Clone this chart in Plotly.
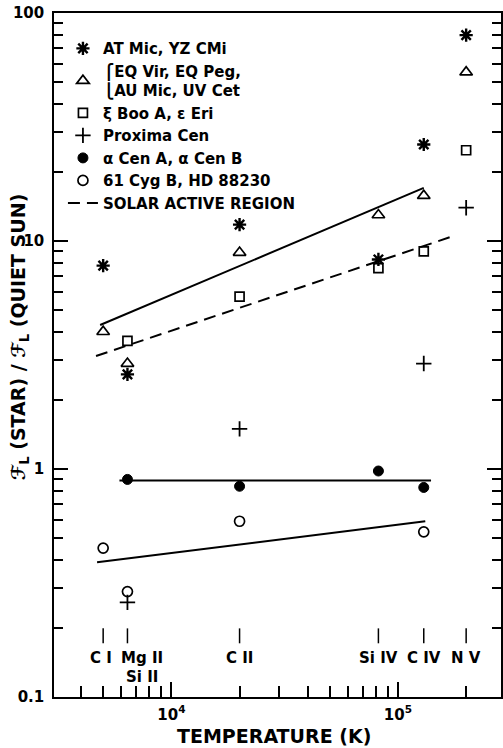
import plotly.graph_objects as go
import math

# ---------------- data ----------------
temps = [5000, 6400, 20000, 82000, 130000, 200000]

at_mic = [7.8, 2.6, 11.8, 8.3, 26.5, 80]          # asterisk
eq_vir = [4.0, 2.9, 8.9, 13.0, 15.8, 55]          # triangle
xi_boo = [None, 3.65, 5.7, 7.6, 9.0, 25]          # square
proxima = [None, 0.26, 1.5, None, 2.9, 14]        # plus
alpha_cen = [None, 0.9, 0.84, 0.98, 0.83, None]   # filled circle
cyg61 = [0.45, 0.29, 0.59, None, 0.53, None]      # open circle

# fitted / reference lines (endpoints)
fit_active_T = [4850, 130000]
fit_active_v = [4.28, 17.1]
solar_T = [4650, 175000]
solar_v = [3.13, 10.5]
cen_T = [5900, 140000]
cen_v = [0.89, 0.89]
cyg_T = [4700, 132000]
cyg_v = [0.39, 0.59]

# spectral lines marking formation temperature
line_T = [5000, 6400, 20000, 82000, 130000, 200000]
line_labels = ["C I", "Mg II", "C II", "Si IV", "C IV", "N V"]
line_labels2 = ["", "Si II", "", "", "", ""]

legend_names = [
    "AT Mic, YZ CMi",
    "⎧EQ Vir, EQ Peg,<br>⎩AU Mic, UV Cet",
    "ξ Boo A, ε Eri",
    "Proxima Cen",
    "α Cen A, α Cen B",
    "61 Cyg B, HD 88230",
    "SOLAR ACTIVE REGION",
]

x_tickvals = [1e4, 1e5]
x_ticktext = ["10<sup>4</sup>", "10<sup>5</sup>"]
x_minor = [3000, 4000, 5000, 6000, 7000, 8000, 9000,
           20000, 30000, 40000, 50000, 60000, 70000, 80000, 90000, 200000]
y_tickvals = [0.1, 1, 10, 100]
y_ticktext = ["0.1", "1", "10", "100"]
y_minor = [0.2, 0.3, 0.4, 0.5, 0.6, 0.7, 0.8, 0.9,
           2, 3, 4, 5, 6, 7, 8, 9, 20, 30, 40, 50, 60, 70, 80, 90]

# ---------------- figure ----------------
FONT = "DejaVu Sans, Noto Sans, sans-serif"
W, H = 503, 748
M = dict(l=54, r=2, t=13, b=51)
plot_h = H - M["t"] - M["b"]
y_range = [-1, 2]
px_per_decade = plot_h / (y_range[1] - y_range[0])
fig = go.Figure()

def pts(vals):
    return [t for t, v in zip(temps, vals) if v is not None], [v for v in vals if v is not None]

series = [
    (at_mic, "asterisk-open", 11, 2.4),
    (eq_vir, "triangle-up-open", 11, 1.7),
    (xi_boo, "square-open", 9, 1.7),
    (proxima, "cross-thin-open", 11, 1.8),
    (alpha_cen, "circle", 10, 1.0),
    (cyg61, "circle-open", 10, 1.7),
]
for (vals, sym, size, lw), name in zip(series, legend_names):
    xs, ys = pts(vals)
    fig.add_trace(go.Scatter(
        x=xs, y=ys, mode="markers", name=name,
        marker=dict(symbol=sym, size=size, color="black",
                    line=dict(color="black", width=lw)),
    ))

fig.add_trace(go.Scatter(x=solar_T, y=solar_v, mode="lines", name=legend_names[6],
                         line=dict(color="black", width=2, dash="12px,7px")))
for tx, vy in [(fit_active_T, fit_active_v), (cen_T, cen_v), (cyg_T, cyg_v)]:
    fig.add_trace(go.Scatter(x=tx, y=vy, mode="lines", showlegend=False,
                             line=dict(color="black", width=2)))

# short vertical tick marks for spectral lines
lx, ly = [], []
for t in line_T:
    lx += [t, t, None]
    ly += [0.172, 0.2, None]
fig.add_trace(go.Scatter(x=lx, y=ly, mode="lines", showlegend=False,
                         line=dict(color="black", width=1.5)))

lab_font = dict(family=FONT, size=15, color="black", weight="bold")
shift = {"Mg II": 15, "C I": -2}
for t, lab, lab2 in zip(line_T, line_labels, line_labels2):
    fig.add_annotation(x=math.log10(t), y=math.log10(0.148), text=lab, showarrow=False,
                       xshift=shift.get(lab, 0), font=lab_font)
    if lab2:
        fig.add_annotation(x=math.log10(t), y=math.log10(0.122), text=lab2, showarrow=False,
                           xshift=shift.get(lab, 0), font=lab_font)

fig.add_annotation(x=0.5, y=0, xref="paper", yref="paper", xanchor="center", yanchor="top",
                   yshift=-26, xshift=-4, text="TEMPERATURE (K)", showarrow=False,
                   font=dict(family=FONT, size=19, color="black", weight="bold"))
fig.add_annotation(x=0, y=0.526, xref="paper", yref="paper", xanchor="center", yanchor="middle",
                   xshift=-35, textangle=-90,
                   text="ℱ<sub>L</sub> (STAR) / ℱ<sub>L</sub> (QUIET SUN)", showarrow=False,
                   font=dict(family=FONT, size=19, color="black", weight="bold"))

# tick marks along the top edge (mirror of the x axis ticks); log axes -> log10 coords
top_x, top_y = [], []
for vals, ln in [(x_tickvals, 15), (x_minor, 11)]:
    for v in vals:
        lv = math.log10(v)
        fig.add_shape(type="line", xref="x", yref="y", x0=lv, x1=lv,
                      y0=y_range[1], y1=y_range[1] - ln / px_per_decade,
                      line=dict(color="black", width=1.5), layer="above")

axis_common = dict(showgrid=False, zeroline=False, showline=True, linecolor="black",
                   linewidth=1.5, ticks="inside", tickcolor="black",
                   tickwidth=1.5, automargin=False,
                   tickfont=dict(family=FONT, size=15, color="black", weight="bold"))

x_range = [math.log10(3034), math.log10(285000)]
fig.update_xaxes(type="log", range=x_range, mirror=True,
                 tickmode="array", tickvals=x_tickvals, ticktext=x_ticktext, ticklen=15,
                 ticklabelstandoff=3,
                 minor=dict(tickmode="array", tickvals=x_minor, ticks="inside", ticklen=11,
                            tickcolor="black", tickwidth=1.5),
                 **axis_common)
fig.update_yaxes(type="log", range=y_range, mirror="allticks",
                 tickmode="array", tickvals=y_tickvals, ticktext=y_ticktext, ticklen=14,
                 ticklabelstandoff=5,
                 minor=dict(tickmode="array", tickvals=y_minor, ticks="inside", ticklen=9,
                            tickcolor="black", tickwidth=1.5),
                 **axis_common)

fig.update_layout(
    template="none",
    width=W, height=H,
    margin=M,
    paper_bgcolor="white", plot_bgcolor="white",
    font=dict(family=FONT, color="black"),
    legend=dict(x=0.02, y=0.972, xanchor="left", yanchor="top",
                bgcolor="rgba(0,0,0,0)",
                font=dict(family=FONT, size=15, color="black", weight="bold"),
                itemwidth=30, tracegroupgap=0),
)

fig.write_html(
    "out.html",
    config={"displayModeBar": False},
    post_script="document.body.style.margin='0';document.body.style.overflow='hidden';",
)
